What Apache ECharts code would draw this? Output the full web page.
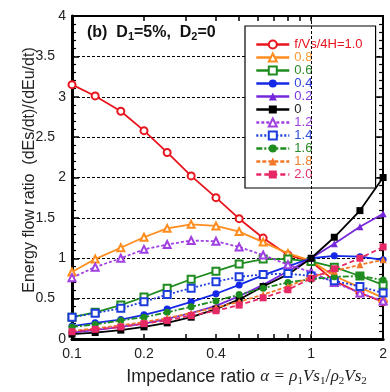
<!DOCTYPE html>
<html>
<head>
<meta charset="utf-8">
<script src="https://cdn.jsdelivr.net/npm/echarts@6/dist/echarts.min.js"></script>
<style>
  html, body { margin: 0; padding: 0; background: #fff; }
  #chart { width: 390px; height: 392px; }
</style>
</head>
<body>
<div id="chart"></div>
<script>
// Impedance ratio alpha = rho1*Vs1 / rho2*Vs2 (sampled log-uniformly)
const alpha = [0.1, 0.125, 0.16, 0.2, 0.25, 0.315, 0.4, 0.5, 0.63, 0.8, 1, 1.25, 1.6, 2];

// Energy flow ratio (dEs/dt)/(dEu/dt) for each normalized frequency f/(Vs/4H)
const f10 = [3.15, 3.01, 2.82, 2.58, 2.31, 2.02, 1.75, 1.49, 1.25, 1.04, 0.96, 0.72, 0.57, 0.46];
const f08 = [0.83, 0.99, 1.13, 1.26, 1.37, 1.42, 1.40, 1.33, 1.20, 1.06, 0.97, 0.78, 0.64, 0.51];
const f06 = [0.27, 0.33, 0.42, 0.52, 0.63, 0.74, 0.84, 0.93, 0.99, 0.99, 0.96, 0.89, 0.78, 0.67];
const f04 = [0.16, 0.20, 0.24, 0.30, 0.37, 0.46, 0.56, 0.67, 0.79, 0.90, 1.00, 1.03, 1.02, 0.98];
const f02 = [0.08, 0.11, 0.15, 0.19, 0.25, 0.32, 0.41, 0.53, 0.67, 0.84, 1.00, 1.18, 1.39, 1.55];
const f00 = [0.06, 0.08, 0.11, 0.15, 0.20, 0.27, 0.37, 0.49, 0.65, 0.80, 1.00, 1.26, 1.59, 2.00];
const f12 = [0.76, 0.89, 1.00, 1.11, 1.17, 1.22, 1.21, 1.14, 1.04, 0.92, 0.83, 0.70, 0.57, 0.47];
const f14 = [0.27, 0.32, 0.38, 0.46, 0.55, 0.63, 0.71, 0.77, 0.80, 0.81, 0.78, 0.72, 0.65, 0.57];
const f16 = [0.15, 0.18, 0.23, 0.27, 0.33, 0.40, 0.47, 0.55, 0.63, 0.70, 0.74, 0.77, 0.78, 0.73];
const f18 = [0.10, 0.13, 0.17, 0.21, 0.26, 0.32, 0.39, 0.46, 0.55, 0.65, 0.77, 0.84, 0.92, 0.98];
const f20 = [0.09, 0.12, 0.15, 0.19, 0.23, 0.29, 0.35, 0.42, 0.51, 0.61, 0.75, 0.87, 1.00, 1.14];

const seriesNames = ['f/Vs/4H=1.0', '0.8', '0.6', '0.4', '0.2', '0', '1.2', '1.4', '1.6', '1.8', '2.0'];
const seriesValues = [f10, f08, f06, f04, f02, f00, f12, f14, f16, f18, f20];

// Axis tick positions (alpha values)
const xLabelValues = [0.1, 0.2, 0.4, 1, 2];
const xTickValues = [0.1, 0.2, 0.3, 0.4, 0.5, 0.6, 0.7, 0.8, 0.9, 1, 2];

const FONT = "'Liberation Sans', Arial, sans-serif";
const SERIF = "'Liberation Serif', 'DejaVu Serif', serif";

const styles = [
  { color: '#e8141e', text: '#e8141e', symbol: 'emptyCircle',   type: 'solid' },
  { color: '#ff8c1e', text: '#ff9933', symbol: 'emptyTriangle', type: 'solid' },
  { color: '#1e8c1e', text: '#2a8a2a', symbol: 'emptyRect',     type: 'solid' },
  { color: '#1428e6', text: '#3344dd', symbol: 'circle',        type: 'solid' },
  { color: '#7828dc', text: '#7a3ae0', symbol: 'triangle',      type: 'solid' },
  { color: '#000000', text: '#222222', symbol: 'rect',          type: 'solid' },
  { color: '#a040e0', text: '#a040e0', symbol: 'emptyTriangle', type: [3, 2] },
  { color: '#1e3cdc', text: '#3050d8', symbol: 'emptyRect',     type: [2, 2] },
  { color: '#1e8c1e', text: '#2a8a2a', symbol: 'circle',        type: [6, 2, 2, 2] },
  { color: '#f07828', text: '#f08030', symbol: 'triangle',      type: [4, 2] },
  { color: '#e62864', text: '#e03070', symbol: 'rect',          type: [5, 3] }
];

const lg = v => Math.log10(v);
const fmtAlpha = v => String(parseFloat(Math.pow(10, v).toPrecision(3)));

const series = seriesNames.map((name, i) => {
  const s = {
    name: name,
    type: 'line',
    data: alpha.map((a, k) => [lg(a), seriesValues[i][k]]),
    symbol: styles[i].symbol,
    symbolSize: 7,
    showAllSymbol: true,
    lineStyle: { color: styles[i].color, width: 1.8, type: styles[i].type },
    itemStyle: { color: styles[i].color, borderWidth: 1.3 },
    emphasis: { disabled: true },
    animation: false,
    z: 2 + i * 0.01
  };
  if (i === 0) {
    // vertical reference line at alpha = 1, drawn above the legend box
    s.markLine = {
      symbol: 'none', silent: true, animation: false,
      z: 10,
      label: { show: false },
      lineStyle: { color: '#000', type: [3, 2], width: 1 },
      emphasis: { disabled: true },
      data: [{ xAxis: lg(1) }]
    };
  }
  return s;
});

const chart = echarts.init(document.getElementById('chart'), null, { renderer: 'canvas' });

chart.setOption({
  animation: false,
  backgroundColor: '#fff',
  title: {
    text: '(b)  D{s|1}=5%,  D{s|2}=0',
    left: 87, top: 23,
    padding: 0,
    textStyle: {
      fontFamily: FONT, fontSize: 16, fontWeight: 'bold', color: '#111',
      lineHeight: 19,
      rich: {
        s: { fontFamily: FONT, fontSize: 11, fontWeight: 'bold', color: '#111', verticalAlign: 'bottom', lineHeight: 19 }
      }
    }
  },
  grid: { left: 72, right: 5, top: 16, bottom: 48.5, containLabel: false },
  legend: {
    orient: 'vertical',
    left: 245, top: 26,
    backgroundColor: '#fff',
    borderColor: '#000', borderWidth: 1.2, borderRadius: 0,
    padding: [12, 13, 7, 10],
    itemGap: 0,
    itemWidth: 33, itemHeight: 10,
    lineStyle: { width: 2.6 },
    selectedMode: false,
    textStyle: { fontFamily: FONT, fontSize: 13, lineHeight: 12.1 },
    data: seriesNames.map((n, i) => ({ name: n, textStyle: { color: styles[i].text } }))
  },
  xAxis: [
    {
      type: 'value', position: 'bottom',
      min: lg(0.1), max: lg(2),
      axisLine: { onZero: false, lineStyle: { color: '#000', width: 3 } },
      axisTick: { inside: true, length: 5, customValues: xTickValues.map(lg), lineStyle: { color: '#000', width: 1.5 } },
      axisLabel: {
        customValues: xLabelValues.map(lg),
        formatter: fmtAlpha,
        fontFamily: FONT, fontSize: 14, color: '#222', margin: 8
      },
      splitLine: { show: false },
      name: '{a|Impedance ratio }{b|α = ρ}{s|1}{b|Vs}{s|1}{c|/}{b|ρ}{s|2}{b|Vs}{s|2}',
      nameLocation: 'middle',
      nameGap: 28,
      nameMoveOverlap: false,
      nameTextStyle: {
        padding: [0, 0, 0, 38],
        rich: {
          a: { fontFamily: FONT, fontSize: 18, color: '#222', lineHeight: 20, verticalAlign: 'middle' },
          b: { fontFamily: SERIF, fontStyle: 'italic', fontSize: 17, color: '#222', lineHeight: 20, verticalAlign: 'middle' },
          c: { fontFamily: SERIF, fontSize: 19, color: '#222', lineHeight: 20, verticalAlign: 'middle' },
          s: { fontFamily: SERIF, fontSize: 11, color: '#222', lineHeight: 20, verticalAlign: 'bottom' }
        }
      }
    },
    {
      type: 'value', position: 'top',
      min: lg(0.1), max: lg(2),
      axisLine: { onZero: false, lineStyle: { color: '#000', width: 2 } },
      axisTick: { inside: true, length: 5, customValues: xTickValues.map(lg), lineStyle: { color: '#000', width: 1.5 } },
      axisLabel: { show: false },
      splitLine: { show: false }
    }
  ],
  yAxis: [
    {
      type: 'value', position: 'left',
      min: 0, max: 4, interval: 0.5,
      axisLine: { show: true, onZero: false, lineStyle: { color: '#000', width: 3 } },
      axisTick: { show: true, inside: true, length: 7, lineStyle: { color: '#000', width: 1.5 } },
      minorTick: { show: true, splitNumber: 5, length: 4, lineStyle: { color: '#000', width: 1.2 } },
      splitLine: { show: true, lineStyle: { color: '#000', type: [3, 2], width: 1 } },
      axisLabel: {
        fontFamily: FONT, fontSize: 14, color: '#222', margin: 6,
        formatter: v => (v % 1 === 0 ? '{i|' + v + '}' : '{h|' + v + '}'),
        rich: {
          i: { fontFamily: FONT, fontSize: 14, color: '#222' },
          h: { fontFamily: FONT, fontSize: 14, color: '#222', padding: [0, 11, 0, 0] }
        }
      },
      name: 'Energy flow ratio  (dEs/dt)/(dEu/dt)',
      nameLocation: 'middle',
      nameGap: 34,
      nameMoveOverlap: false,
      nameTextStyle: { fontFamily: FONT, fontSize: 16, color: '#222', padding: [0, 0, 0, 15] }
    },
    {
      type: 'value', position: 'right',
      min: 0, max: 4, interval: 0.5,
      axisLine: { show: true, onZero: false, lineStyle: { color: '#000', width: 2 } },
      axisTick: { show: true, inside: true, length: 7, lineStyle: { color: '#000', width: 1.5 } },
      minorTick: { show: true, splitNumber: 5, length: 4, lineStyle: { color: '#000', width: 1.2 } },
      splitLine: { show: false },
      axisLabel: { show: false }
    }
  ],
  series: series
});
</script>
</body>
</html>
